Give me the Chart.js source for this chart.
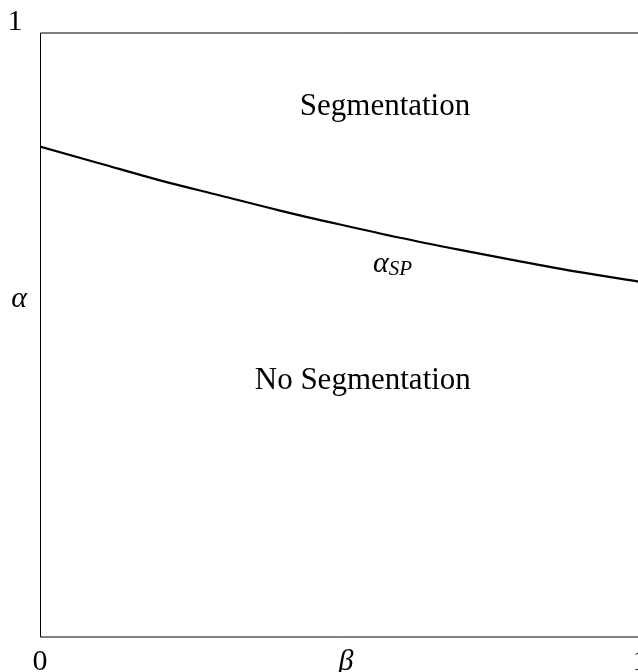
<!DOCTYPE html>
<html>
<head>
<meta charset="utf-8">
<script src="https://cdn.jsdelivr.net/npm/chart.js@4.4.1/dist/chart.umd.min.js"></script>
<style>
  html, body { margin: 0; padding: 0; background: #fff; overflow: hidden; }
  #wrap { width: 638px; height: 672px; overflow: hidden; }
</style>
</head>
<body>
<div id="wrap"><canvas id="chart" width="660" height="672"></canvas></div>
<script>
// boundary alpha_SP as a function of beta
var betaValues = [0, 0.1, 0.2, 0.3, 0.4, 0.5, 0.6, 0.7, 0.8, 0.9, 1]
var alphaSP = [0.812, 0.784, 0.756, 0.731, 0.706, 0.683, 0.661, 0.641, 0.622, 0.604, 0.588]
var xTickLabels = ["0", "1"]
var yTickLabels = ["1"]
var regionLabels = ["Segmentation", "No Segmentation"]

var SERIF = "'Liberation Serif', 'DejaVu Serif', serif"

var points = betaValues.map((b, i) => ({ x: b, y: alphaSP[i] }))

var framePlugin = {
  id: "frame",
  afterDraw: function (chart) {
    var ctx = chart.ctx
    var a = chart.chartArea
    var xs = chart.scales.x
    var ys = chart.scales.y
    ctx.save()
    ctx.strokeStyle = "#000"
    ctx.lineWidth = 1
    ctx.beginPath()
    ctx.moveTo(a.right, a.top)
    ctx.lineTo(a.left + 0.5, a.top)
    ctx.lineTo(a.left + 0.5, a.bottom)
    ctx.lineTo(a.right, a.bottom)
    ctx.stroke()

    ctx.fillStyle = "#000"
    ctx.font = "30px " + SERIF
    ctx.textAlign = "center"
    ctx.textBaseline = "middle"
    // tick labels
    ctx.fillText(xTickLabels[0], xs.getPixelForValue(0), a.bottom + 25)
    ctx.fillText(xTickLabels[1], xs.getPixelForValue(1), a.bottom + 25)
    ctx.fillText(yTickLabels[0], a.left - 25, ys.getPixelForValue(1) - 11)
    // axis titles
    ctx.font = "italic 30px " + SERIF
    ctx.fillText("β", xs.getPixelForValue(0.51), a.bottom + 25)
    ctx.fillText("α", a.left - 21, ys.getPixelForValue(0.56))
    // region labels
    ctx.font = "31px " + SERIF
    ctx.fillText(regionLabels[0], xs.getPixelForValue(0.575), ys.getPixelForValue(0.877))
    ctx.fillText(regionLabels[1], xs.getPixelForValue(0.538), ys.getPixelForValue(0.424))
    // curve label alpha_SP
    var lx = xs.getPixelForValue(0.555)
    var ly = ys.getPixelForValue(0.618)
    ctx.textAlign = "left"
    ctx.font = "italic 30px " + SERIF
    ctx.fillText("α", lx, ly)
    var w = ctx.measureText("α").width
    ctx.font = "italic 21px " + SERIF
    ctx.fillText("SP", lx + w, ly + 6)
    ctx.restore()
  },
}

new Chart(document.getElementById("chart"), {
  type: "scatter",
  data: {
    datasets: [
      {
        label: "alpha_SP",
        data: points,
        showLine: true,
        borderColor: "#000",
        borderWidth: 2.2,
        pointRadius: 0,
        cubicInterpolationMode: "monotone",
        fill: false,
      },
    ],
  },
  options: {
    responsive: false,
    animation: false,
    layout: { padding: { left: 40, top: 33, right: 20, bottom: 35 } },
    plugins: { legend: { display: false }, tooltip: { enabled: false } },
    scales: {
      x: { type: "linear", min: 0, max: 1, display: false },
      y: { type: "linear", min: 0, max: 1, display: false },
    },
  },
  plugins: [framePlugin],
})
</script>
</body>
</html>
